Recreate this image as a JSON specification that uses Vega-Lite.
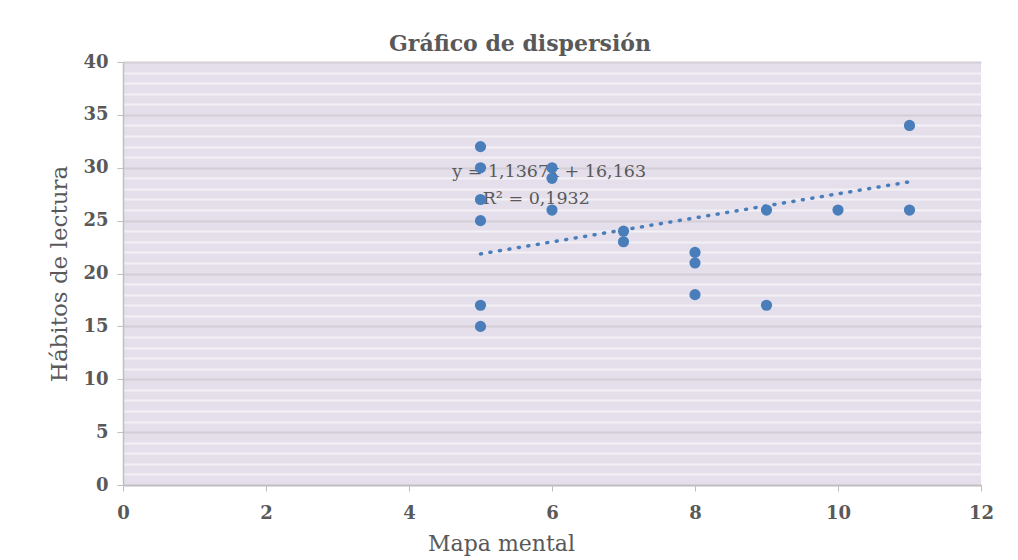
{
  "$schema": "https://vega.github.io/schema/vega-lite/v6.json",
  "width": 858,
  "height": 423,
  "autosize": {"type": "none"},
  "padding": {"left": 123, "top": 62, "right": 37, "bottom": 75},
  "background": "white",
  "title": {
    "text": "Gráfico  de dispersión",
    "font": "DejaVu Serif",
    "fontSize": 22,
    "fontWeight": "bold",
    "color": "#595959",
    "anchor": "middle",
    "dx": -32,
    "offset": -3
  },
  "config": {
    "view": {"fill": "#e4dfeb", "stroke": null},
    "font": "DejaVu Serif"
  },
  "datasets": {
    "points": [
      {"mapa": 5, "habitos": 32},
      {"mapa": 5, "habitos": 30},
      {"mapa": 5, "habitos": 27},
      {"mapa": 5, "habitos": 25},
      {"mapa": 5, "habitos": 17},
      {"mapa": 5, "habitos": 15},
      {"mapa": 6, "habitos": 30},
      {"mapa": 6, "habitos": 29},
      {"mapa": 6, "habitos": 26},
      {"mapa": 7, "habitos": 24},
      {"mapa": 7, "habitos": 23},
      {"mapa": 8, "habitos": 22},
      {"mapa": 8, "habitos": 21},
      {"mapa": 8, "habitos": 18},
      {"mapa": 9, "habitos": 26},
      {"mapa": 9, "habitos": 17},
      {"mapa": 10, "habitos": 26},
      {"mapa": 11, "habitos": 34},
      {"mapa": 11, "habitos": 26}
    ],
    "trend": [
      {"mapa": 5, "habitos": 21.85},
      {"mapa": 11, "habitos": 28.67}
    ],
    "labels": [
      {"mapa": 5.96, "habitos": 29.6, "label": "y = 1,1367x  + 16,163"},
      {"mapa": 5.78, "habitos": 27.05, "label": "R² = 0,1932"}
    ]
  },
  "layer": [
    {
      "data": {"name": "points"},
      "mark": {"type": "point", "opacity": 0},
      "encoding": {
        "x": {
          "field": "mapa", "type": "quantitative",
          "scale": {"domain": [0, 12], "nice": false, "zero": false},
          "axis": {
            "values": [0, 2, 4, 6, 8, 10, 12],
            "format": "d",
            "labelFlush": false,
            "title": "Mapa mental",
            "titleFont": "DejaVu Serif",
            "titleFontSize": 22,
            "titleFontWeight": "normal",
            "titleColor": "#595959",
            "titleX": 378,
            "titleY": 58,
            "titleBaseline": "middle",
            "titleAnchor": "start",
            "titleAlign": "center",
            "labelFont": "DejaVu Serif",
            "labelFontSize": 18,
            "labelFontWeight": "bold",
            "labelColor": "#595959",
            "labelPadding": 13,
            "domainColor": "#bfbfbf",
            "domainWidth": 1.5,
            "tickColor": "#bfbfbf",
            "tickSize": 6,
            "grid": false
          }
        },
        "y": {
          "field": "habitos", "type": "quantitative",
          "scale": {"domain": [0, 40], "nice": false, "zero": false},
          "axis": {
            "values": [0, 5, 10, 15, 20, 25, 30, 35, 40],
            "labelFlush": false,
            "title": "Hábitos de lectura",
            "titleFont": "DejaVu Serif",
            "titleFontSize": 23,
            "titleFontWeight": "normal",
            "titleColor": "#595959",
            "titlePadding": 11,
            "labelFont": "DejaVu Serif",
            "labelFontSize": 18,
            "labelFontWeight": "bold",
            "labelColor": "#595959",
            "labelPadding": 9,
            "domainColor": "#bfbfbf",
            "domainWidth": 1.5,
            "tickColor": "#bfbfbf",
            "tickSize": 6,
            "grid": true,
            "gridColor": "#d3ced8",
            "gridWidth": 2
          }
        }
      }
    },
    {
      "data": {"name": "points"},
      "mark": {"type": "point", "opacity": 0},
      "encoding": {
        "x": {"field": "mapa", "type": "quantitative"},
        "y": {
          "field": "habitos", "type": "quantitative",
          "axis": {
            "orient": "right",
            "values": [1,2,3,4,6,7,8,9,11,12,13,14,16,17,18,19,21,22,23,24,26,27,28,29,31,32,33,34,36,37,38,39],
            "labels": false,
            "ticks": false,
            "domain": false,
            "title": null,
            "grid": true,
            "gridColor": "#f3f1f6",
            "gridWidth": 1.8
          }
        }
      }
    },
    {
      "data": {"name": "trend"},
      "mark": {"type": "line", "color": "#4a7ebb", "strokeWidth": 3.5, "strokeDash": [1, 8.6], "strokeCap": "round"},
      "encoding": {
        "x": {"field": "mapa", "type": "quantitative"},
        "y": {"field": "habitos", "type": "quantitative", "axis": null}
      }
    },
    {
      "data": {"name": "labels"},
      "mark": {"type": "text", "font": "DejaVu Serif", "fontSize": 17.5, "color": "#595959", "align": "center", "baseline": "middle"},
      "encoding": {
        "x": {"field": "mapa", "type": "quantitative"},
        "y": {"field": "habitos", "type": "quantitative", "axis": null},
        "text": {"field": "label"}
      }
    },
    {
      "data": {"name": "points"},
      "mark": {"type": "circle", "color": "#4a7ebb", "opacity": 1, "size": 125},
      "encoding": {
        "x": {"field": "mapa", "type": "quantitative"},
        "y": {"field": "habitos", "type": "quantitative", "axis": null}
      }
    }
  ],
  "resolve": {"axis": {"y": "independent"}}
}
